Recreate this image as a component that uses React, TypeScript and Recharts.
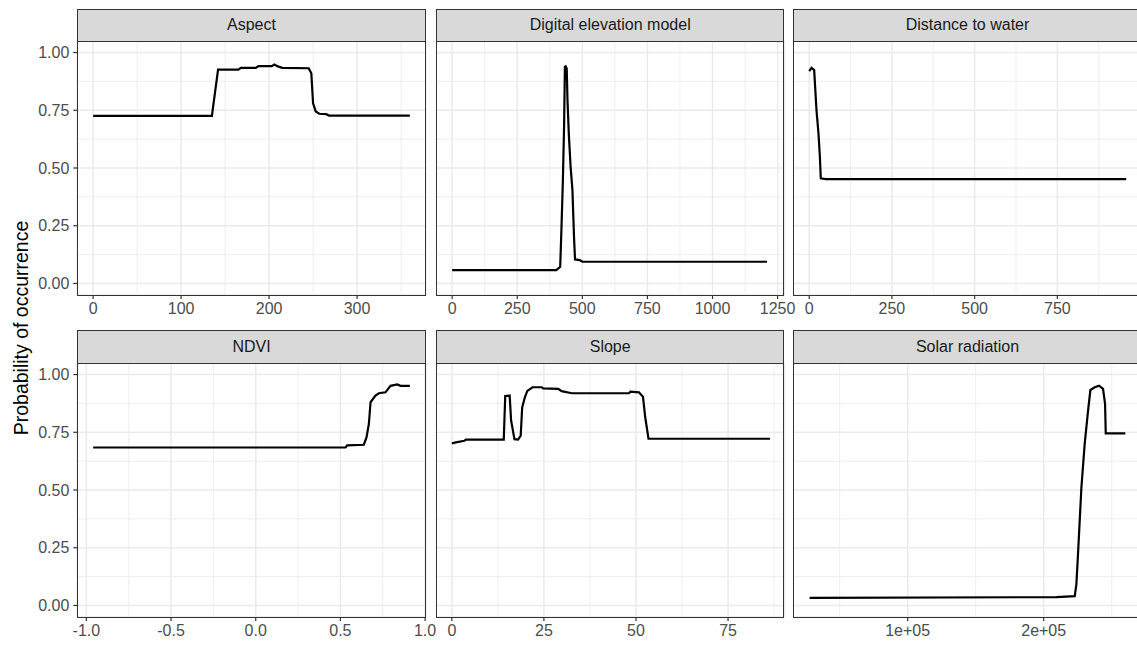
import { CartesianGrid, Line, LineChart, XAxis, YAxis } from "recharts";

const FONT = "Arial, 'Liberation Sans', sans-serif";

// response curves
const aspectX = [0, 135, 142, 165, 168, 185, 188, 203, 206, 210, 215, 245, 248, 250, 253, 257, 265, 268, 360];
const aspectY = [0.726, 0.726, 0.926, 0.926, 0.934, 0.934, 0.941, 0.941, 0.948, 0.94, 0.934, 0.932, 0.91, 0.78, 0.745, 0.735, 0.733, 0.727, 0.727];

const demX = [0, 400, 408, 415, 420, 425, 430, 433, 436, 440, 443, 448, 455, 462, 468, 472, 490, 500, 1209];
const demY = [0.058, 0.058, 0.065, 0.072, 0.245, 0.433, 0.685, 0.938, 0.94, 0.931, 0.794, 0.649, 0.505, 0.404, 0.202, 0.104, 0.101, 0.094, 0.094];

const distX = [0, 7, 15, 22, 28, 32, 35, 50, 958];
const distY = [0.92, 0.934, 0.924, 0.75, 0.65, 0.556, 0.455, 0.452, 0.452];

const ndviX = [-0.96, 0.53, 0.54, 0.638, 0.654, 0.668, 0.678, 0.707, 0.727, 0.766, 0.796, 0.836, 0.855, 0.91];
const ndviY = [0.684, 0.684, 0.693, 0.696, 0.728, 0.786, 0.88, 0.909, 0.919, 0.923, 0.951, 0.957, 0.951, 0.951];

const slopeX = [0, 1.1, 3.4, 3.8, 14.1, 14.5, 15.7, 16.1, 17.0, 18.0, 18.7, 19.1, 19.8, 20.5, 21.9, 24.4, 24.8, 28.9, 29.8, 32.6, 48.1, 48.5, 50.8, 51.9, 52.5, 53.4, 86.4];
const slopeY = [0.702, 0.706, 0.713, 0.718, 0.718, 0.907, 0.909, 0.8, 0.72, 0.718, 0.735, 0.857, 0.9, 0.929, 0.945, 0.945, 0.94, 0.938, 0.928, 0.919, 0.919, 0.926, 0.923, 0.904, 0.816, 0.722, 0.722];

const solarX = [27900, 209300, 222800, 224000, 225200, 227700, 230100, 232600, 234300, 237500, 240700, 243600, 245100, 245600, 260000];
const solarY = [0.033, 0.036, 0.04, 0.091, 0.221, 0.511, 0.699, 0.844, 0.933, 0.945, 0.952, 0.938, 0.873, 0.745, 0.745];

const yTicks = [0, 0.25, 0.5, 0.75, 1];
const yMinor = [0.125, 0.375, 0.625, 0.875];

type Panel = {
  title: string;
  xs: number[];
  ys: number[];
  domain: [number, number];
  ticks: number[];
  minor: number[];
  fmt: (v: number) => string;
  left: number;
  top: number;
};

const COLS = [77.3, 436, 793.3];
const ROWS = [{ strip: 9.3, plot: 40.7 }, { strip: 330, plot: 362.7 }];
const PW = 348.4;
const PH = 254;
const SPARE = 30; // room for tick labels past the panel's right edge

const plain = (v: number) => String(v);
const panels: Panel[] = [
  { title: "Aspect", xs: aspectX, ys: aspectY, domain: [-18, 378], ticks: [0, 100, 200, 300], minor: [50, 150, 250, 350], fmt: plain, left: 0, top: 0 },
  { title: "Digital elevation model", xs: demX, ys: demY, domain: [-62, 1276], ticks: [0, 250, 500, 750, 1000, 1250], minor: [125, 375, 625, 875, 1125], fmt: plain, left: 1, top: 0 },
  { title: "Distance to water", xs: distX, ys: distY, domain: [-49, 1004], ticks: [0, 250, 500, 750], minor: [125, 375, 625, 875], fmt: plain, left: 2, top: 0 },
  { title: "NDVI", xs: ndviX, ys: ndviY, domain: [-1.0535, 1.0035], ticks: [-1, -0.5, 0, 0.5, 1], minor: [-0.75, -0.25, 0.25, 0.75], fmt: (v) => v.toFixed(1), left: 0, top: 1 },
  { title: "Slope", xs: slopeX, ys: slopeY, domain: [-4.3, 90.3], ticks: [0, 25, 50, 75], minor: [12.5, 37.5, 62.5, 87.5], fmt: plain, left: 1, top: 1 },
  { title: "Solar radiation", xs: solarX, ys: solarY, domain: [15700, 271800], ticks: [100000, 200000], minor: [50000, 150000, 250000], fmt: (v) => `${v / 100000}e+05`, left: 2, top: 1 },
];

const tickStyle = { fill: "#4D4D4D", fontSize: 16, fontFamily: FONT };

function FacetPanel({ p }: { p: Panel }) {
  const rows = p.xs.map((x, i) => ({ x, y: p.ys[i] }));
  const px = COLS[p.left];
  const py = ROWS[p.top].plot;
  const sy = ROWS[p.top].strip;
  const first = p.left === 0;
  const axisW = first ? px : 0;
  return (
    <>
      <div
        style={{
          position: "absolute",
          left: px,
          top: sy,
          width: PW,
          height: py - sy,
          boxSizing: "border-box",
          background: "#D9D9D9",
          border: "1.4px solid #333333",
          borderBottom: "none",
          color: "#1A1A1A",
          fontFamily: FONT,
          fontSize: 16,
          display: "flex",
          alignItems: "center",
          justifyContent: "center",
        }}
      >
        {p.title}
      </div>
      <div style={{ position: "absolute", left: px - axisW, top: py }}>
        <LineChart width={PW + axisW + SPARE} height={PH + 40} data={rows} margin={{ top: 0, right: SPARE, bottom: 0, left: 0 }}>
          <XAxis xAxisId="minor" type="number" dataKey="x" domain={p.domain} ticks={p.minor} allowDataOverflow hide />
          <YAxis yAxisId="minor" type="number" domain={[-0.05, 1.05]} ticks={yMinor} allowDataOverflow hide />
          <CartesianGrid xAxisId="minor" yAxisId="minor" stroke="#EBEBEB" strokeWidth={0.8} />
          <CartesianGrid stroke="#EBEBEB" strokeWidth={1.5} />
          <XAxis
            type="number"
            dataKey="x"
            domain={p.domain}
            ticks={p.ticks}
            interval={0}
            allowDataOverflow
            height={40}
            axisLine={false}
            tickSize={4}
            tickMargin={4}
            tickLine={{ stroke: "#333333", strokeWidth: 1.2 }}
            tick={tickStyle}
            tickFormatter={p.fmt}
          />
          <YAxis
            type="number"
            domain={[-0.05, 1.05]}
            ticks={yTicks}
            interval={0}
            allowDataOverflow
            hide={!first}
            width={axisW}
            axisLine={false}
            tickSize={4}
            tickMargin={4}
            tickLine={{ stroke: "#333333", strokeWidth: 1.2 }}
            tick={tickStyle}
            tickFormatter={(v: number) => v.toFixed(2)}
          />
          <Line type="linear" dataKey="y" stroke="#000000" strokeWidth={2.2} dot={false} isAnimationActive={false} />
        </LineChart>
      </div>
      <div
        style={{
          position: "absolute",
          left: px,
          top: py,
          width: PW,
          height: PH + 1,
          boxSizing: "border-box",
          border: "1.4px solid #333333",
          pointerEvents: "none",
        }}
      />
    </>
  );
}

export default function App() {
  return (
    <div style={{ position: "absolute", left: 0, top: 0, width: 1137, height: 650, overflow: "hidden", background: "#FFFFFF" }}>
      {panels.map((p) => (
        <FacetPanel key={p.title} p={p} />
      ))}
      <div
        style={{
          position: "absolute",
          left: 21,
          top: 328,
          transform: "translate(-50%, -50%) rotate(-90deg)",
          whiteSpace: "nowrap",
          fontFamily: FONT,
          fontSize: 19.5,
          color: "#000000",
        }}
      >
        Probability of occurrence
      </div>
    </div>
  );
}
